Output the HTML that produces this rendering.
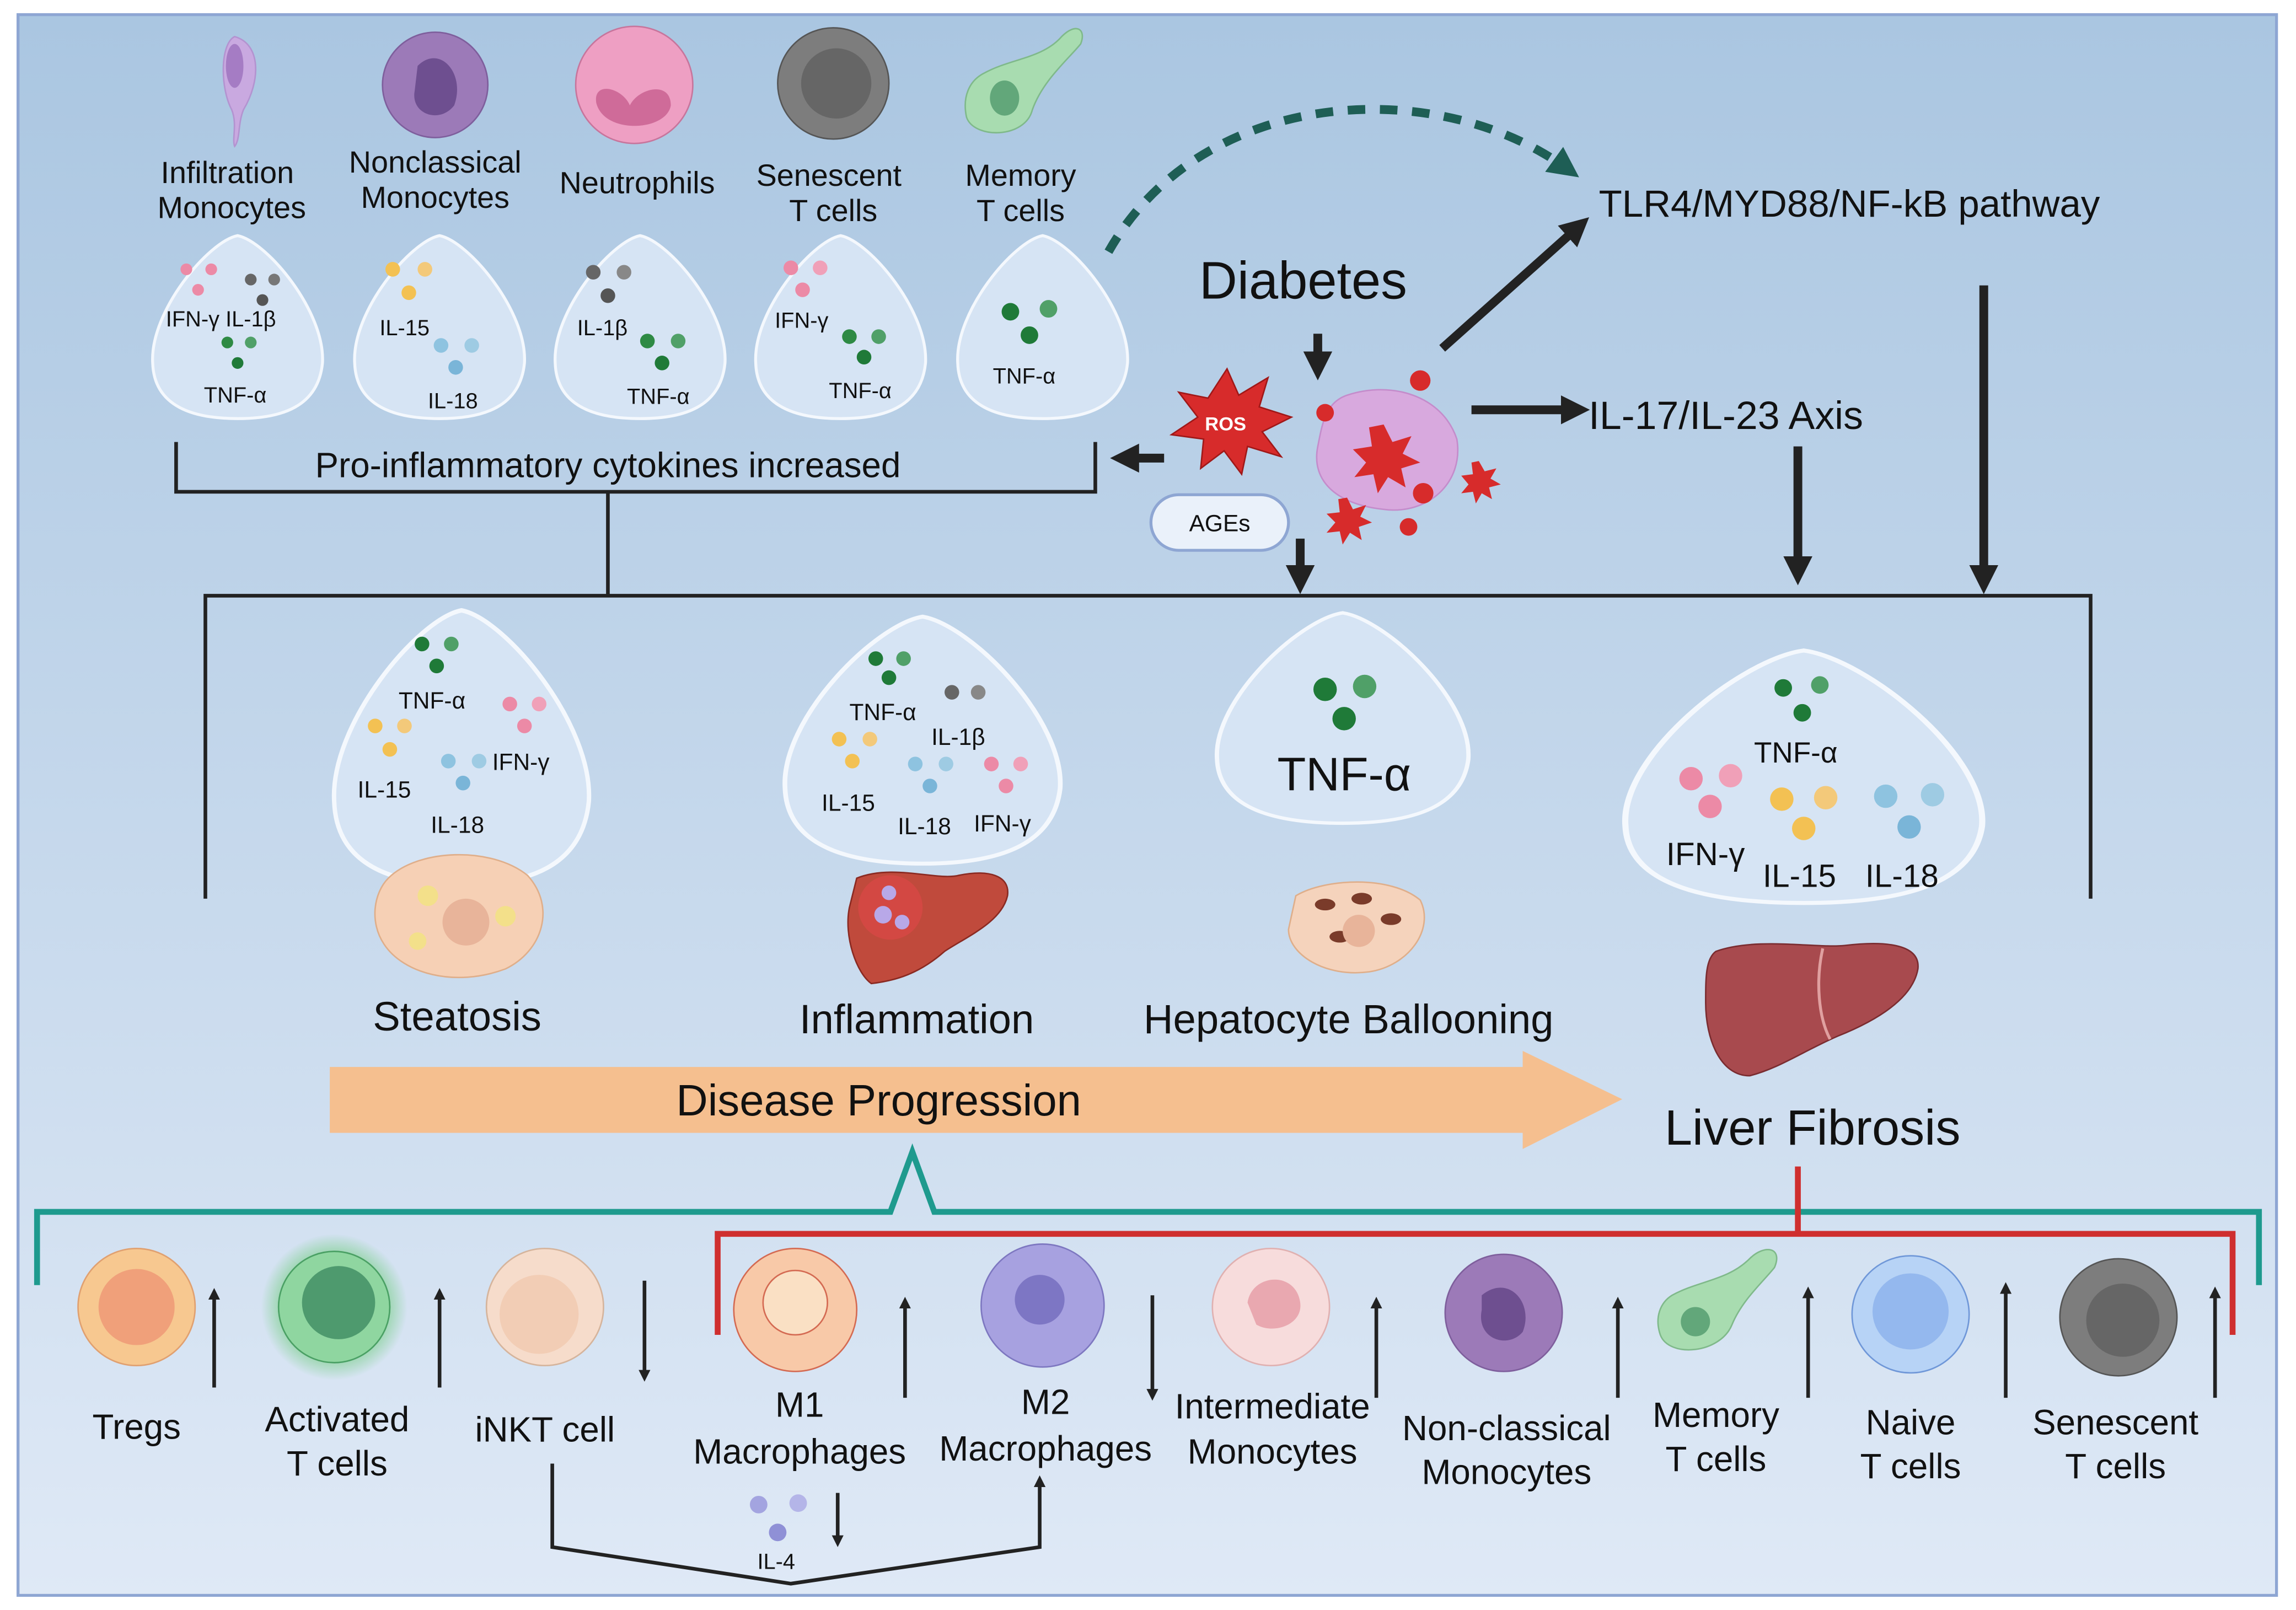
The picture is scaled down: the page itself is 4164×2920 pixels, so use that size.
<!DOCTYPE html>
<html><head><meta charset="utf-8"><style>
html,body{margin:0;padding:0;background:#fff}
svg{display:block}
text{font-family:"Liberation Sans",sans-serif;fill:#111}
</style></head><body>
<svg width="4164" height="2920" viewBox="0 0 1568 1100" xmlns="http://www.w3.org/2000/svg">
<defs>
<linearGradient id="bg" x1="0" y1="0" x2="0" y2="1"><stop offset="0" stop-color="#aac6e1"/><stop offset="1" stop-color="#dfe9f6"/></linearGradient>
<radialGradient id="glow"><stop offset="0.6" stop-color="#7fd08f"/><stop offset="1" stop-color="#7fd08f" stop-opacity="0"/></radialGradient>
<marker id="ah" viewBox="0 0 10 10" refX="5" refY="5" markerWidth="3.2" markerHeight="3.2" orient="auto"><path d="M0,0L10,5L0,10z" fill="#222"/></marker>
<marker id="as" viewBox="0 0 10 10" refX="5" refY="5" markerWidth="3.3" markerHeight="3.3" orient="auto"><path d="M0,0L10,5L0,10z" fill="#222"/></marker>
<marker id="ag" viewBox="0 0 10 10" refX="5" refY="5" markerWidth="3.5" markerHeight="3.5" orient="auto"><path d="M0,0L10,5L0,10z" fill="#1e5e55"/></marker>
<g id="drop"><path d="M0,-62 C20,-58 60,-10 58,25 C55,55 30,63 0,63 C-30,63 -57,55 -58,25 C-60,-10 -20,-58 0,-62Z" fill="#d6e4f4" stroke="#f4f8fd" stroke-width="2"/></g>
</defs>
<rect x="0" y="0" width="1568" height="1100" fill="#fff"/>
<rect x="12" y="10" width="1543" height="1080" fill="url(#bg)" stroke="#8ea6d3" stroke-width="2"/>

<!-- top cells -->
<path d="M160,25 C150,30 150,60 158,75 C162,85 158,95 160,100 C164,95 162,85 166,75 C178,55 178,30 160,25Z" fill="#c9a9e0" stroke="#b393d0"/>
<ellipse cx="160" cy="45" rx="6" ry="15" fill="#a57cc4"/>
<circle cx="297" cy="58" r="36" fill="#9c7ab8" stroke="#7e5e9c"/><path d="M285,45 C300,30 318,50 310,72 C300,85 280,78 283,62Z" fill="#6e4f90"/>
<circle cx="433" cy="58" r="40" fill="#ee9fc3" stroke="#c7759c"/><path d="M407,70 C405,55 425,60 430,72 C436,60 458,55 458,72 C455,90 412,92 407,70Z" fill="#cf6b99"/>
<circle cx="569" cy="57" r="38" fill="#7d7d7d" stroke="#555"/><circle cx="571" cy="57" r="24" fill="#666"/>
<path d="M672,50 C690,40 712,40 725,25 C735,15 742,20 738,30 C730,40 712,55 705,75 C700,95 665,95 660,80 C657,66 662,55 672,50Z" fill="#a8dcb0" stroke="#7fb98a"/><ellipse cx="686" cy="67" rx="10" ry="12" fill="#62a77a"/>
<g font-size="21" text-anchor="middle">
<text x="155" y="125">Infiltration</text><text x="158" y="149">Monocytes</text>
<text x="297" y="118">Nonclassical</text><text x="297" y="142">Monocytes</text>
<text x="435" y="132">Neutrophils</text>
<text x="566" y="127">Senescent</text><text x="569" y="151">T cells</text>
<text x="697" y="127">Memory</text><text x="697" y="151">T cells</text>
</g>
<use href="#drop" x="162" y="223"/><use href="#drop" x="300" y="223"/><use href="#drop" x="437" y="223"/><use href="#drop" x="574" y="223"/><use href="#drop" x="712" y="223"/>
<g>
<circle cx="127" cy="184" r="4" fill="#ec8aa6"/><circle cx="144" cy="184" r="4" fill="#ec8aa6"/><circle cx="135" cy="198" r="4" fill="#ec8aa6"/>
<circle cx="171" cy="191" r="4" fill="#666"/><circle cx="187" cy="191" r="4" fill="#777"/><circle cx="179" cy="205" r="4" fill="#555"/>
<circle cx="155" cy="234" r="4" fill="#2e8a44"/><circle cx="171" cy="234" r="4" fill="#50a068"/><circle cx="162" cy="248" r="4" fill="#1f7a38"/>
<circle cx="268" cy="184" r="5" fill="#f3c153"/><circle cx="290" cy="184" r="5" fill="#f3c97a"/><circle cx="279" cy="200" r="5" fill="#f3c153"/>
<circle cx="301" cy="236" r="5" fill="#8ec3e0"/><circle cx="322" cy="236" r="5" fill="#9ecbe3"/><circle cx="311" cy="251" r="5" fill="#7ab5d8"/>
<circle cx="405" cy="186" r="5" fill="#666"/><circle cx="426" cy="186" r="5" fill="#888"/><circle cx="415" cy="202" r="5" fill="#555"/>
<circle cx="442" cy="233" r="5" fill="#2e8a44"/><circle cx="463" cy="233" r="5" fill="#50a068"/><circle cx="452" cy="248" r="5" fill="#1f7a38"/>
<circle cx="540" cy="183" r="5" fill="#ec8aa6"/><circle cx="560" cy="183" r="5" fill="#f0a0b8"/><circle cx="548" cy="198" r="5" fill="#ec8aa6"/>
<circle cx="580" cy="230" r="5" fill="#2e8a44"/><circle cx="600" cy="230" r="5" fill="#50a068"/><circle cx="590" cy="244" r="5" fill="#1f7a38"/>
<circle cx="690" cy="213" r="6" fill="#1f7a38"/><circle cx="716" cy="211" r="6" fill="#50a068"/><circle cx="703" cy="229" r="6" fill="#1f7a38"/>
</g>
<g font-size="15">
<text x="113" y="223">IFN-γ IL-1β</text><text x="139" y="275">TNF-α</text>
<text x="259" y="229">IL-15</text><text x="292" y="279">IL-18</text>
<text x="394" y="229">IL-1β</text><text x="428" y="276">TNF-α</text>
<text x="529" y="224">IFN-γ</text><text x="566" y="272">TNF-α</text>
<text x="678" y="262">TNF-α</text>
</g>
<path d="M120,302V336H748V302" fill="none" stroke="#222" stroke-width="2.5"/>
<text x="415" y="326" font-size="24" text-anchor="middle">Pro-inflammatory cytokines increased</text>
<path d="M415,336V407M140,614V407H1428V614" fill="none" stroke="#222" stroke-width="2.5"/>

<!-- diabetes area -->
<path d="M757,172 C820,60 980,50 1070,115" fill="none" stroke="#1e5e55" stroke-width="6" stroke-dasharray="12,10" marker-end="url(#ag)"/>
<text x="890" y="204" font-size="36" text-anchor="middle">Diabetes</text>
<text x="1092" y="148" font-size="26">TLR4/MYD88/NF-kB pathway</text>
<line x1="900" y1="228" x2="900" y2="250" stroke="#222" stroke-width="6" marker-end="url(#as)"/>
<line x1="985" y1="238" x2="1078" y2="155" stroke="#222" stroke-width="6" marker-end="url(#as)"/>
<line x1="1005" y1="280" x2="1076" y2="280" stroke="#222" stroke-width="6" marker-end="url(#as)"/>
<text x="1085" y="293" font-size="27">IL-17/IL-23 Axis</text>
<line x1="795" y1="313" x2="768" y2="313" stroke="#222" stroke-width="6" marker-end="url(#as)"/>
<line x1="888" y1="368" x2="888" y2="396" stroke="#222" stroke-width="6" marker-end="url(#as)"/>
<line x1="1228" y1="305" x2="1228" y2="390" stroke="#222" stroke-width="6" marker-end="url(#as)"/>
<line x1="1355" y1="195" x2="1355" y2="396" stroke="#222" stroke-width="6" marker-end="url(#as)"/>
<path d="M838,252 L846,270 L866,258 L860,278 L882,285 L862,295 L875,312 L852,305 L848,324 L836,308 L820,320 L822,300 L800,297 L818,285 L805,268 L825,272Z" fill="#d72b2b" stroke="#a01818"/>
<text x="837" y="294" font-size="13" text-anchor="middle" font-weight="bold" style="fill:#fff">ROS</text>
<path d="M920,270 C950,260 985,270 995,300 C1000,330 975,352 945,348 C915,345 895,330 900,305 C903,290 905,275 920,270Z" fill="#d8a9de" stroke="#c48ccb"/>
<g fill="#d72b2b">
<path d="M945,290 l6,12 13,-4 -6,12 12,6 -13,4 3,13 -12,-7 -7,11 -3,-13 -13,2 8,-10 -9,-9 13,-2 -2,-13z"/>
<path d="M920,340 l4,8 9,-3 -4,8 8,4 -9,3 2,9 -8,-5 -5,8 -2,-9 -9,1 6,-7 -6,-6 9,-1 -1,-9z"/>
<path d="M1010,315 l4,7 8,-2 -4,7 7,4 -8,2 2,8 -7,-4 -4,7 -2,-8 -8,1 5,-6 -5,-6 8,-1 -1,-8z"/>
<circle cx="970" cy="260" r="7"/><circle cx="905" cy="282" r="6"/><circle cx="972" cy="337" r="7"/><circle cx="962" cy="360" r="6"/>
</g>
<rect x="786" y="338" width="94" height="38" rx="19" fill="#eaf1fa" stroke="#8ea6d3" stroke-width="2"/>
<text x="833" y="363" font-size="16" text-anchor="middle">AGEs</text>

<!-- middle bubbles -->
<g transform="translate(315,510) scale(1.5,1.5)"><use href="#drop"/></g>
<g transform="translate(630,505) scale(1.62,1.35)"><use href="#drop"/></g>
<g transform="translate(917,490) scale(1.48,1.15)"><use href="#drop"/></g>
<g transform="translate(1232,530) scale(2.1,1.38)"><use href="#drop"/></g>
<g>
<circle cx="288" cy="440" r="5" fill="#1f7a38"/><circle cx="308" cy="440" r="5" fill="#50a068"/><circle cx="298" cy="455" r="5" fill="#1f7a38"/>
<circle cx="348" cy="481" r="5" fill="#ec8aa6"/><circle cx="368" cy="481" r="5" fill="#f0a0b8"/><circle cx="358" cy="496" r="5" fill="#ec8aa6"/>
<circle cx="256" cy="496" r="5" fill="#f3c153"/><circle cx="276" cy="496" r="5" fill="#f3c97a"/><circle cx="266" cy="512" r="5" fill="#f3c153"/>
<circle cx="306" cy="520" r="5" fill="#8ec3e0"/><circle cx="327" cy="520" r="5" fill="#9ecbe3"/><circle cx="316" cy="535" r="5" fill="#7ab5d8"/>
<circle cx="598" cy="450" r="5" fill="#1f7a38"/><circle cx="617" cy="450" r="5" fill="#50a068"/><circle cx="607" cy="463" r="5" fill="#1f7a38"/>
<circle cx="650" cy="473" r="5" fill="#666"/><circle cx="668" cy="473" r="5" fill="#888"/>
<circle cx="573" cy="505" r="5" fill="#f3c153"/><circle cx="594" cy="505" r="5" fill="#f3c97a"/><circle cx="582" cy="520" r="5" fill="#f3c153"/>
<circle cx="625" cy="522" r="5" fill="#8ec3e0"/><circle cx="646" cy="522" r="5" fill="#9ecbe3"/><circle cx="635" cy="537" r="5" fill="#7ab5d8"/>
<circle cx="677" cy="522" r="5" fill="#ec8aa6"/><circle cx="697" cy="522" r="5" fill="#f0a0b8"/><circle cx="687" cy="537" r="5" fill="#ec8aa6"/>
<circle cx="905" cy="471" r="8" fill="#1f7a38"/><circle cx="932" cy="469" r="8" fill="#50a068"/><circle cx="918" cy="491" r="8" fill="#1f7a38"/>
<circle cx="1218" cy="470" r="6" fill="#1f7a38"/><circle cx="1243" cy="468" r="6" fill="#50a068"/><circle cx="1231" cy="487" r="6" fill="#1f7a38"/>
<circle cx="1155" cy="532" r="8" fill="#ec8aa6"/><circle cx="1182" cy="530" r="8" fill="#f0a0b8"/><circle cx="1168" cy="551" r="8" fill="#ec8aa6"/>
<circle cx="1217" cy="546" r="8" fill="#f3c153"/><circle cx="1247" cy="545" r="8" fill="#f3c97a"/><circle cx="1232" cy="566" r="8" fill="#f3c153"/>
<circle cx="1288" cy="544" r="8" fill="#8ec3e0"/><circle cx="1320" cy="543" r="8" fill="#9ecbe3"/><circle cx="1304" cy="565" r="8" fill="#7ab5d8"/>
</g>
<g font-size="16">
<text x="272" y="484">TNF-α</text><text x="336" y="526">IFN-γ</text><text x="244" y="545">IL-15</text><text x="294" y="569">IL-18</text>
<text x="580" y="492">TNF-α</text><text x="636" y="509">IL-1β</text><text x="561" y="554">IL-15</text><text x="613" y="570">IL-18</text><text x="665" y="568">IFN-γ</text>
<text x="1198" y="521" font-size="20">TNF-α</text><text x="1138" y="591" font-size="22">IFN-γ</text><text x="1204" y="606" font-size="22">IL-15</text><text x="1274" y="606" font-size="22">IL-18</text>
</g>
<text x="918" y="540" font-size="32" text-anchor="middle">TNF-α</text>

<!-- pathology images -->
<path d="M265,600 C285,580 335,578 360,598 C380,620 370,650 345,662 C310,675 275,665 262,645 C252,630 255,610 265,600Z" fill="#f6d0b5" stroke="#dfae8a"/>
<circle cx="318" cy="630" r="16" fill="#e8b49a"/><circle cx="292" cy="612" r="7" fill="#f3e08a"/><circle cx="345" cy="626" r="7" fill="#f3e08a"/><circle cx="285" cy="643" r="6" fill="#f3e08a"/>
<path d="M585,600 C610,590 640,602 655,598 C675,594 690,598 688,612 C684,630 660,640 645,650 C628,665 612,670 595,672 C585,665 576,640 580,620Z" fill="#c04a3c" stroke="#8a2a22"/>
<circle cx="608" cy="620" r="22" fill="#e04848" opacity="0.6"/><circle cx="603" cy="625" r="6" fill="#b8a8e8"/><circle cx="616" cy="630" r="5" fill="#b8a8e8"/><circle cx="607" cy="610" r="5" fill="#b8a8e8"/>
<path d="M885,612 C905,600 950,598 970,615 C980,635 962,660 935,664 C905,668 880,652 880,635Z" fill="#f5d3bc" stroke="#dfae8a"/>
<g fill="#7a3b2a"><ellipse cx="905" cy="618" rx="7" ry="4"/><ellipse cx="930" cy="614" rx="7" ry="4"/><ellipse cx="950" cy="628" rx="7" ry="4"/><ellipse cx="915" cy="640" rx="7" ry="4"/></g>
<circle cx="928" cy="636" r="11" fill="#e8b49a"/>
<path d="M1172,650 C1200,640 1240,648 1260,646 C1285,643 1312,644 1310,662 C1306,685 1275,700 1255,708 C1232,718 1215,730 1195,735 C1175,735 1165,710 1165,685 C1165,668 1165,655 1172,650Z" fill="#a84a4e" stroke="#7a2c30"/>
<path d="M1245,648 C1240,670 1242,695 1250,710" fill="none" stroke="#e0a0a0" stroke-width="2"/>
<g font-size="28" text-anchor="middle">
<text x="312" y="704">Steatosis</text><text x="626" y="706">Inflammation</text><text x="921" y="706">Hepatocyte Ballooning</text>
</g>
<text x="1238" y="782" font-size="34" text-anchor="middle">Liver Fibrosis</text>

<path d="M225,729H1040V718L1108,751L1040,785V774H225Z" fill="#f5bf8f"/>
<text x="600" y="762" font-size="30" text-anchor="middle">Disease Progression</text>

<!-- bottom brackets -->
<path d="M25,878V828H608L623,787L638,828H1543V878" fill="none" stroke="#1e9a8e" stroke-width="4"/>
<path d="M490,912V843H1525V912M1228,797V843" fill="none" stroke="#cf2f2f" stroke-width="4"/>

<!-- bottom cells -->
<circle cx="93" cy="893" r="40" fill="#f7c890" stroke="#e0a070"/><circle cx="93" cy="893" r="26" fill="#f0a07a"/>
<circle cx="228" cy="893" r="50" fill="url(#glow)"/><circle cx="228" cy="893" r="38" fill="#8fd6a0" stroke="#4aa064"/><circle cx="231" cy="890" r="25" fill="#4e9a6e"/>
<circle cx="372" cy="893" r="40" fill="#f6dccb" stroke="#d5b49c"/><circle cx="368" cy="898" r="27" fill="#f2cdb5"/>
<circle cx="543" cy="895" r="42" fill="#f8c9a8" stroke="#d46a52"/><circle cx="543" cy="890" r="22" fill="#fae0c4" stroke="#d46a52"/>
<circle cx="712" cy="892" r="42" fill="#a7a1e0" stroke="#7d77c0"/><circle cx="710" cy="888" r="17" fill="#7d76c4"/>
<circle cx="868" cy="893" r="40" fill="#f7dcdc" stroke="#e0b0b0"/><path d="M852,890 C855,870 885,868 888,890 C890,905 870,912 858,905Z" fill="#e9a8b0"/>
<circle cx="1027" cy="897" r="40" fill="#9c7ab8" stroke="#7e5e9c"/><path d="M1012,885 C1030,870 1048,890 1040,910 C1030,922 1008,915 1012,895Z" fill="#6e4f90"/>
<path d="M1142,885 C1160,875 1180,875 1195,860 C1205,850 1218,852 1212,866 C1205,875 1190,888 1183,905 C1175,925 1140,928 1134,912 C1130,900 1134,890 1142,885Z" fill="#a8dcb0" stroke="#7fb98a"/><ellipse cx="1158" cy="903" rx="10" ry="10" fill="#62a77a"/>
<circle cx="1305" cy="898" r="40" fill="#b7d3f6" stroke="#6f97d8"/><circle cx="1305" cy="896" r="26" fill="#94b8ee"/>
<circle cx="1447" cy="900" r="40" fill="#7d7d7d" stroke="#555"/><circle cx="1450" cy="902" r="25" fill="#666"/>
<g stroke="#222" stroke-width="2.5">
<line x1="146" y1="948" x2="146" y2="884" marker-end="url(#ah)"/>
<line x1="300" y1="948" x2="300" y2="884" marker-end="url(#ah)"/>
<line x1="440" y1="875" x2="440" y2="940" marker-end="url(#ah)"/>
<line x1="618" y1="955" x2="618" y2="890" marker-end="url(#ah)"/>
<line x1="787" y1="885" x2="787" y2="953" marker-end="url(#ah)"/>
<line x1="940" y1="955" x2="940" y2="890" marker-end="url(#ah)"/>
<line x1="1105" y1="955" x2="1105" y2="890" marker-end="url(#ah)"/>
<line x1="1235" y1="955" x2="1235" y2="883" marker-end="url(#ah)"/>
<line x1="1370" y1="955" x2="1370" y2="880" marker-end="url(#ah)"/>
<line x1="1513" y1="955" x2="1513" y2="883" marker-end="url(#ah)"/>
<line x1="572" y1="1020" x2="572" y2="1053" marker-end="url(#ah)"/>
</g>
<path d="M377,1000V1057L540,1082L710,1057V1012" fill="none" stroke="#222" stroke-width="2.5" marker-end="url(#ah)"/>
<circle cx="518" cy="1028" r="6" fill="#a3a4e0"/><circle cx="545" cy="1027" r="6" fill="#b4b5e8"/><circle cx="531" cy="1047" r="6" fill="#8f90d6"/>
<text x="530" y="1072" font-size="15" text-anchor="middle">IL-4</text>
<g font-size="24" text-anchor="middle">
<text x="93" y="983">Tregs</text>
<text x="230" y="978">Activated</text><text x="230" y="1008">T cells</text>
<text x="372" y="985">iNKT cell</text>
<text x="546" y="968">M1</text><text x="546" y="1000">Macrophages</text>
<text x="714" y="966">M2</text><text x="714" y="998">Macrophages</text>
<text x="869" y="969">Intermediate</text><text x="869" y="1000">Monocytes</text>
<text x="1029" y="984">Non-classical</text><text x="1029" y="1014">Monocytes</text>
<text x="1172" y="975">Memory</text><text x="1172" y="1005">T cells</text>
<text x="1305" y="980">Naive</text><text x="1305" y="1010">T cells</text>
<text x="1445" y="980">Senescent</text><text x="1445" y="1010">T cells</text>
</g>
</svg>
</body></html>
